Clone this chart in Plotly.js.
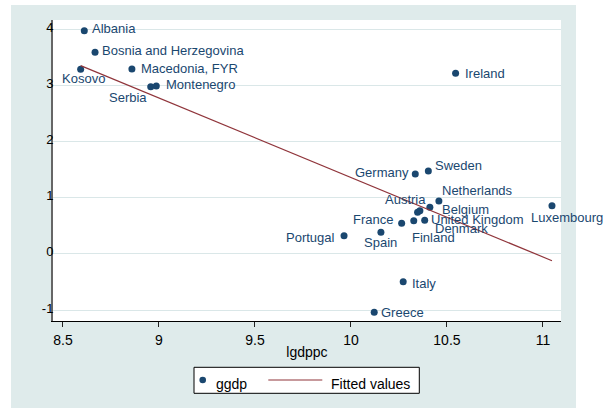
<!DOCTYPE html>
<html>
<head>
<meta charset="utf-8">
<script src="https://cdn.plot.ly/plotly-3.0.1.min.js"></script>
<style>html,body{margin:0;padding:0;background:#fff;}#chart{width:610px;height:410px;}</style>
</head>
<body>
<div id="chart"></div>
<script>
// ---- data ----
const countries = ['Albania','Bosnia and Herzegovina','Macedonia, FYR','Kosovo','Serbia','Montenegro',
  'Ireland','Germany','Sweden','Netherlands','Belgium','Austria','United Kingdom','Denmark','Finland',
  'France','Spain','Portugal','Luxembourg','Italy','Greece'];
const lgdppc = [8.611, 8.667, 8.859, 8.592, 8.957, 8.986,
  10.545, 10.335, 10.403, 10.458, 10.411, 10.359, 10.347, 10.384, 10.327,
  10.264, 10.156, 9.964, 11.047, 10.272, 10.121];
const ggdp = [3.979, 3.594, 3.296, 3.291, 2.980, 2.993,
  3.219, 1.424, 1.478, 0.943, 0.831, 0.770, 0.742, 0.599, 0.592,
  0.545, 0.385, 0.324, 0.859, -0.496, -1.041];
const fitX = [8.592, 11.047];
const fitY = [3.355, -0.121];
const xTicks = [8.5, 9, 9.5, 10, 10.5, 11];
const xTickLabels = ['8.5', '9', '9.5', '10', '10.5', '11'];
const yTicks = [-1, 0, 1, 2, 3, 4];
const yTickLabels = ['-1', '0', '1', '2', '3', '4'];

// ---- label placement (style): [xanchor, dx px, dy px (down positive)] ----
const labelPlace = [
  ['left', 6, -1.7], ['left', 5, -1.3], ['left', 7, -0.7], ['center', 2.6, 9], ['right', -2, 10.6], ['left', 7.5, -1],
  ['left', 7, 0], ['right', -4.5, -1.7], ['left', 4.5, -5], ['left', 1.5, -10], ['left', 10.5, 2.5], ['right', 8.5, -11.7],
  ['left', 11.5, 7], ['left', 8.5, 8], ['left', -3.5, 16.6],
  ['right', -7, -4], ['center', 0, 10], ['right', -7, 1.6], ['center', 15, 11.6], ['left', 6.5, 1.6], ['left', 4.5, 0]
];

const NAVY = '#1a476f';
const MAROON = '#90353b';
const FONT = 'Liberation Sans, Arial, Helvetica, sans-serif';

const traces = [
  {
    type: 'scatter', mode: 'markers', name: 'ggdp',
    x: lgdppc, y: ggdp, text: countries, hoverinfo: 'text+x+y',
    marker: {color: NAVY, size: 7, line: {width: 0}},
    showlegend: false, cliponaxis: false
  },
  {
    type: 'scatter', mode: 'lines', name: 'Fitted values',
    x: fitX, y: fitY,
    line: {color: MAROON, width: 1.2},
    showlegend: false
  }
];

const annotations = countries.map((c, i) => ({
  x: lgdppc[i], y: ggdp[i], xref: 'x', yref: 'y',
  text: c, showarrow: false,
  xanchor: labelPlace[i][0], yanchor: 'middle',
  xshift: labelPlace[i][1], yshift: -labelPlace[i][2],
  font: {family: FONT, size: 13, color: NAVY}
}));

// plot area: x 53..561 px, y 20..321 px
const L = 53, R = 561, T = 20, B = 321;
const px = v => (v - L) / (R - L);
const py = v => (B - v) / (B - T);

annotations.push(
  {xref: 'paper', yref: 'paper', x: px(213.5), y: py(384), text: 'ggdp', showarrow: false,
   xanchor: 'left', yanchor: 'middle', font: {family: FONT, size: 14, color: '#000'}},
  {xref: 'paper', yref: 'paper', x: px(329.2), y: py(384), text: 'Fitted values', showarrow: false,
   xanchor: 'left', yanchor: 'middle', font: {family: FONT, size: 14, color: '#000'}}
);

const shapes = [
  {type: 'rect', xref: 'paper', yref: 'paper', x0: px(11), x1: px(576), y0: py(408), y1: py(5),
   fillcolor: '#dfebeb', line: {width: 0}, layer: 'below'},
  {type: 'rect', xref: 'paper', yref: 'paper', x0: 0, x1: 1, y0: 0, y1: 1,
   fillcolor: '#ffffff', line: {width: 0}, layer: 'below'},
  {type: 'rect', xref: 'paper', yref: 'paper', x0: px(194), x1: px(419.3), y0: py(393.3), y1: py(367.3),
   fillcolor: '#ffffff', line: {color: '#000', width: 1}, layer: 'above'},
  {type: 'circle', xref: 'paper', yref: 'paper', x0: px(199.4), x1: px(206), y0: py(383.3), y1: py(376.7),
   fillcolor: NAVY, line: {width: 0}, layer: 'above'},
  {type: 'line', xref: 'paper', yref: 'paper', x0: px(268.3), x1: px(322.3), y0: py(380), y1: py(380),
   line: {color: MAROON, width: 1.2}, layer: 'above'}
];

const layout = {
  width: 610, height: 410,
  margin: {l: L, r: 610 - R, t: T, b: 410 - B, pad: 0},
  paper_bgcolor: '#ffffff', plot_bgcolor: '#ffffff',
  font: {family: FONT, size: 13, color: '#000'},
  showlegend: false,
  xaxis: {
    range: [8.448, 11.094], tickmode: 'array', tickvals: xTicks, ticktext: xTickLabels,
    ticks: 'outside', ticklen: 5, tickcolor: '#222', tickwidth: 1,
    showline: true, linecolor: '#000', linewidth: 1,
    showgrid: false, zeroline: false,
    tickfont: {family: FONT, size: 14, color: '#000'},
    ticklabelstandoff: 1,
    title: {text: 'lgdppc', font: {family: FONT, size: 14, color: '#000'}, standoff: 0}
  },
  yaxis: {
    range: [-1.196, 4.169], tickmode: 'array', tickvals: yTicks, ticktext: yTickLabels,
    ticks: '', ticklen: 0,
    showline: true, linecolor: '#666', linewidth: 2,
    showgrid: true, gridcolor: '#dae7e8', gridwidth: 1, zeroline: false,
    tickfont: {family: FONT, size: 13, color: '#000'},
    ticklabelshift: -2,
    ticklabelstandoff: -5
  },
  shapes: shapes,
  annotations: annotations
};

Plotly.newPlot('chart', traces, layout, {displayModeBar: false, staticPlot: true});
</script>
</body>
</html>
